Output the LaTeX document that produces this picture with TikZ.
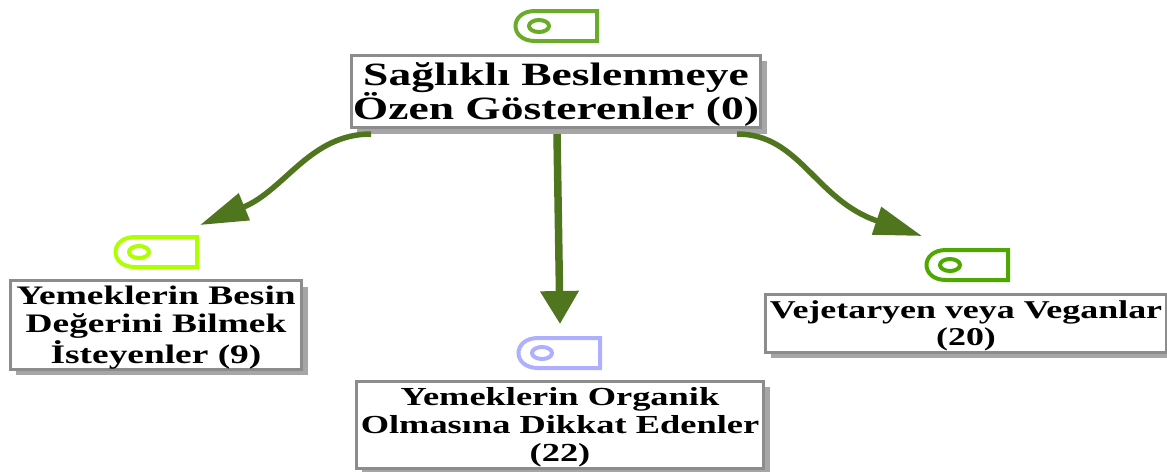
\documentclass[tikz,border=0pt]{standalone}
\usepackage{fontspec}
\setmainfont{Liberation Serif}[FakeStretch=1.4]
\usetikzlibrary{arrows.meta,shadows}
\definecolor{flowgreen}{HTML}{4F761F}
\definecolor{framegray}{HTML}{8C8C8C}
\definecolor{shadowgray}{HTML}{A6A6A6}
\definecolor{tagmain}{HTML}{6AAB2A}
\definecolor{tagleft}{HTML}{AEFF00}
\definecolor{tagmid}{HTML}{AFAFFF}
\definecolor{tagright}{HTML}{4FA800}
\newcommand{\topgap}{\rule{0pt}{0.9em}}
\tikzset{
  groupbox/.style={draw=framegray, fill=white, line width=0.06cm, inner sep=0pt, align=center,
    font=\bfseries\fontsize{15.2}{15.9}\selectfont,
    drop shadow={shadow xshift=0.12cm, shadow yshift=-0.12cm, fill=shadowgray, opacity=1}},
  flow/.style={draw=flowgreen, line width=0.11cm, -{Triangle[length=0.96cm, width=0.56cm]}},
  flowstraight/.style={draw=flowgreen, line width=0.15cm, -{Triangle[length=0.66cm, width=0.74cm]}},
  pics/tagicon/.style={code={
    \draw[line width=0.08cm] (82,-15) -- (82,15) -- (20,15) .. controls (-6,15) and (-6,-15) .. (20,-15) -- cycle;
    \draw[line width=0.08cm] (24,0) ellipse (10 and 6);
  }}
}
\begin{document}
\begin{tikzpicture}[x=0.02cm, y=-0.02cm]
  \useasboundingbox (0,0) rectangle (1167,471);
  % boxes
  \node[groupbox, minimum width=8.2cm, minimum height=1.46cm, font=\bfseries\fontsize{18.5}{19.5}\selectfont] (main) at (556,91.5) {\topgap Sağlıklı Beslenmeye\\Özen Gösterenler (0)};
  \node[groupbox, minimum width=5.84cm, minimum height=1.76cm] (besin) at (156,325) {\topgap Yemeklerin Besin\\Değerini Bilmek\\İsteyenler (9)};
  \node[groupbox, minimum width=8.16cm, minimum height=1.74cm, font=\bfseries\fontsize{14.8}{15.9}\selectfont] (organik) at (560,424.5) {\topgap Yemeklerin Organik\\Olmasına Dikkat Edenler\\(22)};
  \node[groupbox, minimum width=8.04cm, minimum height=1.16cm, font=\bfseries\fontsize{14.6}{15.4}\selectfont] (vegan) at (966,323) {\topgap Vejetaryen veya Veganlar\\(20)};
  % tags
  \pic[draw=tagmain] (tagmain) at (515,26) {tagicon};
  \pic[draw=tagleft] (tagbesin) at (115,252) {tagicon};
  \pic[draw=tagmid] (tagorganik) at (518,353) {tagicon};
  \pic[draw=tagright] (tagvegan) at (926,265) {tagicon};
  % arrows
  \coordinate (outleft) at (371,134);
  \coordinate (outmid) at (557,134);
  \coordinate (outright) at (737,134);
  \coordinate (inbesin) at (200,225);
  \coordinate (inorganik) at (560,324);
  \coordinate (invegan) at (922,236);
  \draw[flow] (outleft) .. controls (310,134) and (285,190) .. (inbesin);
  \draw[flowstraight] (outmid) -- (inorganik);
  \draw[flow] (outright) .. controls (800,134) and (815,200) .. (invegan);
\end{tikzpicture}
\end{document}
